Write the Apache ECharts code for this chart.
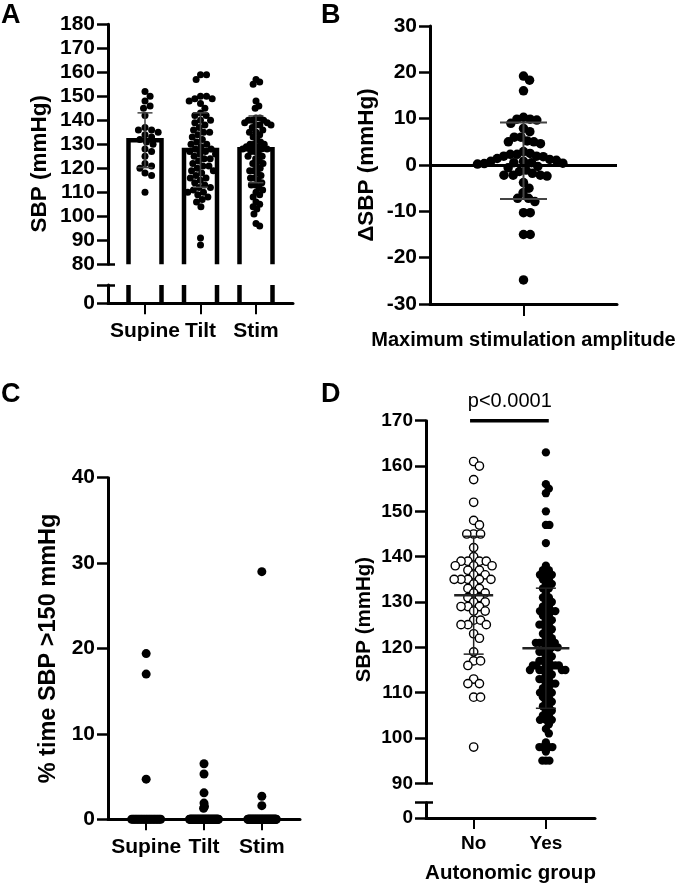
<!DOCTYPE html>
<html><head><meta charset="utf-8">
<script src="https://cdn.jsdelivr.net/npm/echarts@6/dist/echarts.min.js"></script>
<style>html,body{margin:0;padding:0;background:#fff}#c{width:685px;height:885px}</style>
</head><body><div id="c"></div>
<script>
// ---------------- data ----------------
const catA = ['Supine', 'Tilt', 'Stim'];
const aSupine = [152, 150, 148, 146, 145, 142, 137, 136, 136, 135, 134, 133, 132, 131, 130, 128, 127, 125, 122, 121, 120, 118, 117, 110];
const aTilt = [159, 159, 157, 150, 150, 149, 149, 148, 147, 145, 143, 142, 142, 140, 140, 139, 138, 137, 136, 135, 135, 134, 133, 132, 131, 130, 130, 129, 128, 128, 127, 127, 126, 126, 125, 124, 124, 123, 122, 121, 121, 120, 119, 119, 118, 117, 116, 116, 115, 114, 113, 112, 112, 111, 110, 110, 109, 108, 107, 106, 104, 91, 88];
const aStim = [157, 156, 155, 148, 146, 145, 141, 141, 140, 140, 140, 139, 139, 138, 138, 138, 137, 136, 135, 135, 134, 133, 132, 131, 130, 130, 130, 129, 129, 128, 128, 128, 127, 127, 126, 125, 125, 124, 123, 122, 122, 121, 120, 119, 119, 118, 117, 116, 116, 115, 114, 113, 113, 112, 111, 110, 109, 108, 106, 105, 104, 103, 101, 97, 96];
const aMean = [131.7, 127.6, 127.9];
const aSD = [11.4, 15.5, 13.9];

const bName = 'Maximum stimulation amplitude';
const bDelta = [19.2, 18.3, 16.0, 10.3, 9.9, 9.9, 9.7, 9.0, 7.9, 7.2, 6.0, 6.0, 5.2, 5.0, 5.0, 4.6, 2.9, 2.5, 2.3, 2.3, 1.9, 1.9, 1.8, 1.4, 1.2, 1.0, 0.8, 0.8, 0.5, 0.5, 0.4, 0.3, 0.2, -0.3, -0.6, -1.1, -1.4, -1.8, -2.2, -2.2, -2.2, -2.4, -3.8, -5.0, -6.0, -7.2, -7.2, -7.9, -10.3, -10.3, -15.0, -15.0, -24.8];
const bMean = 0.9;
const bSD = 8.25;

const catC = ['Supine', 'Tilt', 'Stim'];
const cSupine = [19.4, 17.0, 4.7, 0, 0, 0, 0, 0, 0, 0, 0, 0, 0, 0, 0, 0, 0, 0, 0, 0, 0, 0, 0, 0];
const cTilt = [6.5, 5.3, 3.1, 1.9, 1.5, 1.3, 0, 0, 0, 0, 0, 0, 0, 0, 0, 0, 0, 0, 0, 0, 0, 0, 0, 0, 0, 0, 0, 0, 0, 0, 0, 0, 0, 0, 0, 0, 0, 0, 0, 0, 0, 0, 0, 0, 0, 0, 0, 0, 0, 0, 0, 0, 0, 0, 0, 0, 0, 0, 0, 0, 0, 0, 0];
const cStim = [29.0, 2.7, 1.6, 0, 0, 0, 0, 0, 0, 0, 0, 0, 0, 0, 0, 0, 0, 0, 0, 0, 0, 0, 0, 0, 0, 0, 0, 0, 0, 0, 0, 0, 0, 0, 0, 0, 0, 0, 0, 0, 0, 0, 0, 0, 0, 0, 0, 0, 0, 0, 0, 0, 0, 0, 0, 0, 0, 0, 0, 0, 0, 0, 0, 0, 0];

const catD = ['No', 'Yes'];
const dNo = [161, 160, 157, 152, 148, 147, 145, 145, 145, 142, 140, 139, 139, 139, 139, 138, 138, 138, 137, 137, 136, 136, 135, 135, 135, 135, 135, 134, 133, 133, 132, 132, 131, 131, 130, 130, 129, 129, 129, 128, 128, 126, 126, 125, 125, 125, 123, 122, 119, 117, 117, 116, 113, 112, 112, 109, 109, 98];
const dYes = [163, 156, 155, 154, 150, 147, 147, 143, 138, 137, 137, 136, 136, 136,
  135, 135, 134, 134, 133, 133, 132, 131, 131, 130, 130, 129, 129,
  128, 128, 128, 128, 127, 127, 126, 126, 125, 125, 125, 124, 124, 123, 123, 122, 122,
  121, 121, 121, 121, 121, 120, 120, 120, 119, 119, 119, 118, 118, 117, 117, 117,
  116, 116, 116, 116, 116, 116, 115, 115, 115, 115, 115, 115, 114, 114, 113, 113, 113, 112, 112, 112,
  111, 111, 110, 110, 110, 109, 109, 108, 108, 107, 107, 106, 106, 105, 105, 104, 104, 104, 103, 102, 101,
  99, 98, 98, 98, 98, 97, 95, 95, 95];
const dMean = [131.5, 119.8];
const dSD = [13.0, 13.25];
const pText = 'p<0.0001';

// ---------------- layout ----------------
const FONT = '"Liberation Sans", Arial, Helvetica, sans-serif';
const GA = { left: 108, top: 24.3, width: 185, height: 240, lowTop: 285, lowH: 18.3, xMin: -2 / 3, xMax: 8 / 3, yMin: 80, yMax: 180 };
const GB = { left: 430, top: 26, width: 187, height: 278, xMin: -1, xMax: 1, yMin: -30, yMax: 30 };
const GC = { left: 108, top: 477.7, width: 192, height: 341.6, xMin: -0.66, xMax: 2.66, yMin: 0, yMax: 40 };
const GD = { left: 426, top: 420.7, width: 169, height: 362.6, lowTop: 802.7, lowH: 15.6, xMin: -0.66, xMax: 1.68, yMin: 90, yMax: 170 };
const pxX = g => g.width / (g.xMax - g.xMin);
const pxY = g => g.height / (g.yMax - g.yMin);

// beeswarm: horizontal offsets (px) computed from values
function swarm(values, py, d, maxHalf) {
  const order = values.map((v, i) => i).sort((a, b) => values[b] - values[a]);
  const placed = [];
  const offs = new Array(values.length).fill(0);
  for (const i of order) {
    const y = values[i] * py;
    const near = placed.filter(p => Math.abs(p.y - y) < d);
    const cands = [0];
    near.forEach(p => { const dx = Math.sqrt(d * d - (p.y - y) * (p.y - y)); cands.push(p.x + dx, p.x - dx); });
    const sorted = cands.map((c, k) => [c, k]).sort((a, b) => Math.abs(a[0]) - Math.abs(b[0]) || a[1] - b[1]).map(a => a[0]);
    for (const c of sorted) {
      if (near.every(p => (p.x - c) * (p.x - c) + (p.y - y) * (p.y - y) >= d * d - 0.01)) { offs[i] = c; break; }
    }
    placed.push({ x: offs[i], y: y });
  }
  const m = Math.max(...offs.map(Math.abs));
  const k = m > maxHalf ? maxHalf / m : 1;
  return offs.map(o => o * k);
}
function swarmData(values, cat, g, d, maxHalf) {
  const offs = swarm(values, pxY(g), d, maxHalf);
  return values.map((v, i) => [cat + offs[i] / pxX(g), v]);
}

function errRender(capHalf, meanHalf, lw, meanLw, color) {
  return function (params, api) {
    const x = api.value(0), m = api.value(1), s = api.value(2);
    const hi = api.coord([x, m + s]), lo = api.coord([x, m - s]), mid = api.coord([x, m]);
    const st = { stroke: color, lineWidth: lw };
    const ch = [
      { type: 'line', shape: { x1: hi[0], y1: hi[1], x2: lo[0], y2: lo[1] }, style: st },
      { type: 'line', shape: { x1: hi[0] - capHalf, y1: hi[1], x2: hi[0] + capHalf, y2: hi[1] }, style: st },
      { type: 'line', shape: { x1: lo[0] - capHalf, y1: lo[1], x2: lo[0] + capHalf, y2: lo[1] }, style: st }
    ];
    if (meanHalf > 0) ch.push({ type: 'line', shape: { x1: mid[0] - meanHalf, y1: mid[1], x2: mid[0] + meanHalf, y2: mid[1] }, style: { stroke: color, lineWidth: meanLw } });
    return { type: 'group', children: ch };
  };
}

const BAR_HW = 16.5, BAR_LW = 4.5;
function barUpper(params, api) {
  const x = api.value(0), v = api.value(1);
  const t = api.coord([x, v]), b = api.coord([x, GA.yMin]);
  return { type: 'polyline', shape: { points: [[t[0] - BAR_HW, b[1]], [t[0] - BAR_HW, t[1]], [t[0] + BAR_HW, t[1]], [t[0] + BAR_HW, b[1]]] },
    style: { fill: 'none', stroke: '#000', lineWidth: BAR_LW } };
}
function barLower(params, api) {
  const x = api.value(0);
  const t = api.coord([x, 1]), b = api.coord([x, 0]);
  const st = { stroke: '#000', lineWidth: BAR_LW };
  return { type: 'group', children: [
    { type: 'line', shape: { x1: t[0] - BAR_HW, y1: t[1], x2: b[0] - BAR_HW, y2: b[1] }, style: st },
    { type: 'line', shape: { x1: t[0] + BAR_HW, y1: t[1], x2: b[0] + BAR_HW, y2: b[1] }, style: st }
  ] };
}

const axisLine = { show: true, onZero: false, lineStyle: { color: '#000', width: 3 } };
function yAx(grid, g, min, max, interval, fontSize, extra) {
  return Object.assign({
    type: 'value', gridIndex: grid, min: min, max: max, interval: interval,
    axisLine: axisLine,
    axisTick: { show: true, length: 11, lineStyle: { color: '#000', width: 2.5 } },
    axisLabel: { show: true, margin: 13, color: '#000', fontFamily: FONT, fontWeight: 'bold', fontSize: fontSize },
    splitLine: { show: false }
  }, extra || {});
}
// break caps: short inward stubs at the ends of the broken axis
function capAx(grid, min, max, at) {
  return { type: 'value', gridIndex: grid, min: min, max: max, position: 'left', offset: 0,
    axisLine: { show: false, onZero: false },
    axisTick: { show: true, inside: true, length: 7, customValues: [at], lineStyle: { color: '#000', width: 2.5 } },
    axisLabel: { show: false }, splitLine: { show: false } };
}
function nameAx(grid, name, gap, fontSize) {
  return { type: 'value', gridIndex: grid, min: 0, max: 1, name: name, nameLocation: 'middle', nameGap: gap,
    nameTextStyle: { color: '#000', fontFamily: FONT, fontWeight: 'bold', fontSize: fontSize },
    axisLine: { show: false }, axisTick: { show: false }, axisLabel: { show: false }, splitLine: { show: false } };
}
function hiddenX(grid, g) {
  return { type: 'value', gridIndex: grid, min: g.xMin, max: g.xMax, show: false, splitLine: { show: false } };
}
function catX(grid, g, cats, fontSize, margin, tickLen, extra) {
  const vals = cats.map((c, i) => i);
  return Object.assign({
    type: 'value', gridIndex: grid, min: g.xMin, max: g.xMax,
    axisLine: axisLine,
    axisTick: { show: true, length: tickLen, customValues: vals, lineStyle: { color: '#000', width: 2 } },
    axisLabel: { show: true, customValues: vals, margin: margin, color: '#000', fontFamily: FONT, fontWeight: 'bold', fontSize: fontSize,
      formatter: v => cats[Math.round(v)] },
    splitLine: { show: false }
  }, extra || {});
}

const letter = (t, l, tp) => ({ text: t, left: l, top: tp, padding: 0, textStyle: { fontFamily: FONT, fontWeight: 'bold', fontSize: 27, color: '#000' } });
const dot = { color: '#000', opacity: 1 };

const option = {
  animation: false,
  backgroundColor: '#fff',
  title: [letter('A', 1, 2), letter('B', 321, 2), letter('C', 1, 381), letter('D', 321, 381)],
  grid: [
    { left: GA.left, top: GA.top, width: GA.width, height: GA.height },
    { left: GA.left, top: GA.lowTop, width: GA.width, height: GA.lowH },
    { left: GA.left, top: GA.top, width: GA.width, height: GA.lowTop + GA.lowH - GA.top },
    { left: GB.left, top: GB.top, width: GB.width, height: GB.height },
    { left: GC.left, top: GC.top, width: GC.width, height: GC.height },
    { left: GD.left, top: GD.top, width: GD.width, height: GD.height },
    { left: GD.left, top: GD.lowTop, width: GD.width, height: GD.lowH },
    { left: GD.left, top: GD.top, width: GD.width, height: GD.lowTop + GD.lowH - GD.top }
  ],
  xAxis: [
    hiddenX(0, GA),
    catX(1, GA, catA, 21, 17, 11),
    hiddenX(2, GA),
    { type: 'value', gridIndex: 3, min: GB.xMin, max: GB.xMax, axisLine: axisLine,
      axisTick: { show: true, length: 12, customValues: [0], lineStyle: { color: '#000', width: 2 } },
      axisLabel: { show: false }, splitLine: { show: false },
      name: bName, nameLocation: 'middle', nameGap: 26,
      nameTextStyle: { color: '#000', fontFamily: FONT, fontWeight: 'bold', fontSize: 20 } },
    catX(4, GC, catC, 21, 17.5, 11),
    hiddenX(5, GD),
    catX(6, GD, catD, 19, 16, 11, { name: 'Autonomic group', nameLocation: 'middle', nameGap: 45,
      nameTextStyle: { color: '#000', fontFamily: FONT, fontWeight: 'bold', fontSize: 20.5 } }),
    hiddenX(7, GD)
  ],
  yAxis: [
    yAx(0, GA, GA.yMin, GA.yMax, 10, 21),
    yAx(1, GA, 0, 1, 1, 21, { axisLabel: { show: true, margin: 13, color: '#000', fontFamily: FONT, fontWeight: 'bold', fontSize: 21, formatter: v => (v === 0 ? '0' : '') } }),
    nameAx(2, 'SBP (mmHg)', 57, 22.5),
    yAx(3, GB, GB.yMin, GB.yMax, 10, 21, { name: 'ΔSBP (mmHg)', nameLocation: 'middle', nameGap: 52,
      nameTextStyle: { color: '#000', fontFamily: FONT, fontWeight: 'bold', fontSize: 22.5 } }),
    yAx(4, GC, GC.yMin, GC.yMax, 10, 21, { name: '% time SBP >150 mmHg', nameLocation: 'middle', nameGap: 47,
      nameTextStyle: { color: '#000', fontFamily: FONT, fontWeight: 'bold', fontSize: 23.5 } }),
    yAx(5, GD, GD.yMin, GD.yMax, 10, 19, { axisLabel: { show: true, margin: 13, color: '#000', fontFamily: FONT, fontWeight: 'bold', fontSize: 19 } }),
    yAx(6, GD, 0, 1, 1, 19, { axisLabel: { show: true, margin: 13, color: '#000', fontFamily: FONT, fontWeight: 'bold', fontSize: 19, formatter: v => (v === 0 ? '0' : '') } }),
    nameAx(7, 'SBP (mmHg)', 51, 20.5),
    capAx(0, GA.yMin, GA.yMax, GA.yMin),
    capAx(1, 0, 1, 1),
    capAx(5, GD.yMin, GD.yMax, GD.yMin),
    capAx(6, 0, 1, 1)
  ],
  series: [
    // Panel A bars
    { type: 'custom', xAxisIndex: 0, yAxisIndex: 0, renderItem: barUpper, clip: false, z: 2,
      data: aMean.map((m, i) => [i, m]) },
    { type: 'custom', xAxisIndex: 1, yAxisIndex: 1, renderItem: barLower, clip: false, z: 2,
      data: aMean.map((m, i) => [i, m]) },
    // Panel A dots
    ...[aSupine, aTilt, aStim].map((vals, i) => ({
      type: 'scatter', xAxisIndex: 0, yAxisIndex: 0, symbolSize: 7, z: 3,
      itemStyle: dot, data: swarmData(vals, i, GA, 7, 15)
    })),
    { type: 'custom', xAxisIndex: 0, yAxisIndex: 0, renderItem: errRender(7.5, 0, 1.5, 0, '#444'), z: 4,
      data: aMean.map((m, i) => [i, m, aSD[i]]) },
    // Panel B
    { type: 'custom', xAxisIndex: 3, yAxisIndex: 3, renderItem: errRender(23.5, 0, 2, 0, '#444'), z: 4,
      data: [[0, bMean, bSD]] },
    { type: 'scatter', xAxisIndex: 3, yAxisIndex: 3, symbolSize: 9.5, z: 3,
      itemStyle: dot, data: swarmData(bDelta, 0, GB, 9.5, 46),
      markLine: { silent: true, symbol: 'none', label: { show: false }, z: 5,
        lineStyle: { color: '#000', width: 3, type: 'solid', opacity: 1 }, data: [{ yAxis: 0 }] } },
    // Panel C
    ...[cSupine, cTilt, cStim].map((vals, i) => ({
      type: 'scatter', xAxisIndex: 4, yAxisIndex: 4, symbolSize: 9, z: 3, clip: false,
      itemStyle: dot, data: swarmData(vals, i, GC, 9, 14.5)
    })),
    // Panel D
    { type: 'scatter', xAxisIndex: 5, yAxisIndex: 5, symbolSize: 8.3, z: 3,
      itemStyle: { color: '#fff', borderColor: '#000', borderWidth: 1.4, opacity: 1 }, data: swarmData(dNo, 0, GD, 8.3, 19.5) },
    { type: 'scatter', xAxisIndex: 5, yAxisIndex: 5, symbolSize: 8.3, z: 3,
      itemStyle: dot, data: swarmData(dYes, 1, GD, 8.3, 19.5) },
    { type: 'custom', xAxisIndex: 5, yAxisIndex: 5, z: 4, renderItem: function (params, api) {
        const g = errRender(10, params.dataIndex === 0 ? 19.5 : 23.5, 1.5, 2.5, '#222');
        return g(params, api);
      }, data: dMean.map((m, i) => [i, m, dSD[i]]) },
    { type: 'line', xAxisIndex: 5, yAxisIndex: 5, clip: false, symbol: 'none', z: 5,
      lineStyle: { color: '#000', width: 3.5 }, data: [[-0.05, 170], [1.04, 170]] },
    { type: 'custom', xAxisIndex: 5, yAxisIndex: 5, clip: false, z: 5, data: [[0.5, 170]],
      renderItem: function (params, api) {
        const p = api.coord([api.value(0), api.value(1)]);
        return { type: 'text', x: p[0], y: p[1] - 19,
          style: { text: pText, fill: '#000', fontFamily: FONT, fontSize: 20, align: 'center', verticalAlign: 'middle' } };
      } }
  ]
};

const chart = echarts.init(document.getElementById('c'), null, { renderer: 'canvas' });
chart.setOption(option);
</script>
</body></html>
